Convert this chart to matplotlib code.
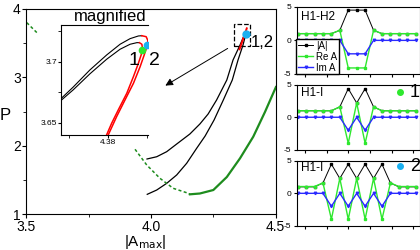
import matplotlib as mpl, numpy as np
import matplotlib.pyplot as plt
from matplotlib.patches import Rectangle

plt.rcParams['font.family'] = ['Liberation Sans', 'DejaVu Sans']

# main panel: branches P vs |A_max|
upper_x = [3.984, 4.023, 4.063, 4.103, 4.156, 4.196, 4.229, 4.263, 4.304, 4.329, 4.357, 4.377]
upper_p = [1.805, 1.838, 1.912, 2.024, 2.171, 2.317, 2.463, 2.668, 2.961, 3.254, 3.473, 3.644]
lower_x = [3.985, 4.023, 4.063, 4.103, 4.143, 4.183, 4.217, 4.253, 4.290, 4.326, 4.349, 4.369, 4.381]
lower_p = [1.288, 1.351, 1.449, 1.571, 1.742, 1.961, 2.141, 2.376, 2.668, 2.961, 3.254, 3.473, 3.644]
red_x = [4.355, 4.384]
red_p = [3.410, 3.717]
gdash_x = [3.936, 3.983, 4.036, 4.089, 4.150, 4.156]
gdash_p = [1.947, 1.717, 1.522, 1.376, 1.303, 1.288]
green_x = [4.156, 4.196, 4.250, 4.304, 4.357, 4.410, 4.457, 4.501]
green_p = [1.288, 1.300, 1.351, 1.541, 1.815, 2.131, 2.493, 2.858]
gdash2_x = [3.502, 3.548]
gdash2_p = [3.80, 3.634]
dot12 = (4.381, 3.634)
zoom_box = (4.333, 3.459, 0.066, 0.321)
arrow_from = (4.317, 3.444)
arrow_to = (4.048, 2.858)

# inset (magnified fold)
in1_bx = [4.37385, 4.37555, 4.37769, 4.37983, 4.38154, 4.38282, 4.38388, 4.38432]
in1_by = [3.6689, 3.6793, 3.6934, 3.7057, 3.7145, 3.7191, 3.7213, 3.7215]
in1_rx = [4.38432, 4.38487, 4.38509, 4.38496, 4.38462, 4.38410, 4.38325, 4.38218, 4.38111, 4.38004]
in1_ry = [3.7215, 3.7207, 3.7175, 3.7125, 3.7057, 3.6961, 3.6825, 3.6689, 3.6552, 3.6402]
in2_bx = [4.37385, 4.37555, 4.37769, 4.37983, 4.38154, 4.38282, 4.38368, 4.38401]
in2_by = [3.6675, 3.6770, 3.6902, 3.7022, 3.7104, 3.7145, 3.7158, 3.7158]
in2_rx = [4.38401, 4.38432, 4.38440, 4.38423, 4.38388, 4.38325, 4.38240, 4.38132, 4.38047, 4.37983]
in2_ry = [3.7158, 3.7145, 3.7112, 3.7057, 3.6989, 3.6880, 3.6743, 3.6607, 3.6497, 3.6402]
dot1 = (4.38432, 3.7098)
dot2 = (4.38504, 3.7139)

# right panels: profiles on sites
sites = list(range(-7, 8))
p1_abs = [1, 1, 1, 1, 1, 1.5, 4.5, 4.5, 4.5, 1.5, 1, 1, 1, 1, 1]
p1_re = [1, 1, 1, 1, 1, 1.5, -4.1, -4.1, -4.1, 1.5, 1, 1, 1, 1, 1]
p1_im = [0, 0, 0, 0, 0, 0, -2, -2, -2, 0, 0, 0, 0, 0, 0]
p2_abs = [1, 1, 1, 1, 1, 1.6, 4.4, 2.2, 4.4, 1.6, 1, 1, 1, 1, 1]
p2_re = [1, 1, 1, 1, 1, 1.6, -4, 2.2, -4, 1.6, 1, 1, 1, 1, 1]
p2_im = [0, 0, 0, 0, 0, 0, -2, 0, -2, 0, 0, 0, 0, 0, 0]
p3_abs = [1, 1, 1, 1.6, 4.5, 2.3, 4.5, 2.3, 4.5, 2.3, 4.5, 1.6, 1, 1, 1]
p3_re = [1.05, 1.05, 1.05, 1.6, -4, 2.3, -4, 2.3, -4, 2.3, -4, 1.6, 1.05, 1.05, 1.05]
p3_im = [0, 0, 0, 0, -2, 0, -2, 0, -2, 0, -2, 0, 0, 0, 0]

GREEN = '#1e8c1e'
LIME = '#2ee82e'
BLUE = '#2a2aff'
CYAN = '#1ab0f0'

fig = plt.figure(figsize=(4.2, 2.5), dpi=100)

# main axes
ax = fig.add_axes([0.0626, 0.144, 0.5938, 0.82])
ax.plot(upper_x, upper_p, color='k', lw=0.9)
ax.plot(lower_x, lower_p, color='k', lw=0.9)
ax.plot(red_x, red_p, color='red', lw=1.4)
ax.plot(gdash_x, gdash_p, color=GREEN, lw=1.1, ls=(0, (2, 1.6)))
ax.plot(gdash2_x, gdash2_p, color=GREEN, lw=1.1, ls=(0, (2, 1.6)))
ax.plot(green_x, green_p, color=GREEN, lw=1.6)
ax.plot(*dot12, 'o', color=CYAN, ms=5)
ax.add_patch(Rectangle(zoom_box[:2], zoom_box[2], zoom_box[3], fill=False, ls='--', lw=0.9, ec='k'))
ax.annotate('', xy=arrow_to, xytext=arrow_from,
            arrowprops=dict(arrowstyle='-|>', color='k', lw=0.7, mutation_scale=11))
ax.text(4.402, 3.517, '1,2', fontsize=12, va='center', ha='left')
ax.set_xlim(3.5, 4.5)
ax.set_ylim(1, 4)
ax.set_xticks([3.5, 4.0, 4.5])
ax.set_xticklabels(['3.5', '4.0', '4.5'])
ax.set_xticks([3.75, 4.25], minor=True)
ax.set_yticks([1, 2, 3, 4])
ax.set_yticklabels(['1', '2', '3', '4'])
ax.set_yticks([1.5, 2.5, 3.5], minor=True)
ax.tick_params(which='both', direction='out', labelsize=10, pad=1)
ax.tick_params(axis='x', pad=1.5)
ax.tick_params(which='major', length=3)
ax.tick_params(which='minor', length=2)
for s in ax.spines.values():
    s.set_linewidth(0.8)
fig.text(-0.002, 0.54, 'P', fontsize=12, ha='left', va='center')
fig.text(0.345, 0.031, r'|A$_{\rm max}$|', fontsize=11, ha='center', va='center')
fig.text(0.262, 0.936, 'magnified', fontsize=12, ha='center', va='center')

# inset
ins = fig.add_axes([0.1452, 0.46, 0.2071, 0.44])
ins.plot(in1_bx, in1_by, color='k', lw=0.8)
ins.plot(in2_bx, in2_by, color='k', lw=0.8)
ins.plot(in1_rx, in1_ry, color='red', lw=1.1)
ins.plot(in2_rx, in2_ry, color='red', lw=1.1)
ins.plot(*dot1, 'o', color=LIME, ms=4.5, zorder=5)
ins.plot(*dot2, 'o', color=CYAN, ms=4.5, zorder=5)
ins.text(0.84, 0.68, '1', transform=ins.transAxes, fontsize=14, ha='center', va='center')
ins.text(1.07, 0.68, '2', transform=ins.transAxes, fontsize=14, ha='center', va='center', clip_on=False)
ins.set_xlim(4.374, 4.3851)
ins.set_ylim(3.640, 3.7303)
ins.set_xticks([4.38])
ins.set_xticklabels(['4.38'])
ins.set_xticks([4.375, 4.385], minor=True)
ins.set_yticks([3.65, 3.7])
ins.set_yticklabels(['3.65', '3.7'])
ins.set_yticks([3.675, 3.725], minor=True)
ins.tick_params(which='both', direction='out', labelsize=6, pad=1, length=2)
ins.spines['right'].set_visible(False)
for s in ins.spines.values():
    s.set_linewidth(0.8)

# right panels
panels = [
    (0.704, 0.269, p1_abs, p1_re, p1_im, 'H1-H2', 0.851),
    (0.401, 0.260, p2_abs, p2_re, p2_im, 'H1-I', 0.88),
    (0.0972, 0.259, p3_abs, p3_re, p3_im, 'H1-I', 0.89),
]
axs = []
for bottom, height, a, re, im, title, ty in panels:
    pa = fig.add_axes([0.7071, bottom, 0.2929, height])
    pa.plot(sites, a, color='k', lw=0.7, marker='s', ms=1.5, label='|A|')
    pa.plot(sites, re, color=LIME, lw=1.0, marker='s', ms=1.5, label='Re A')
    pa.plot(sites, im, color=BLUE, lw=1.0, marker='v', ms=1.8, label='Im A')
    pa.set_xlim(-7.08, 7.51)
    pa.set_ylim(-5, 5)
    pa.set_yticks([-5, 0, 5])
    pa.set_yticklabels(['-5', '0', '5'])
    pa.set_xticks(np.arange(-6.12, 7.0, 2.57))
    pa.set_xticklabels([])
    pa.tick_params(direction='out', length=2, labelsize=6, pad=2)
    pa.text(0.033, ty, title, transform=pa.transAxes, fontsize=8.5, ha='left', va='center')
    for s in pa.spines.values():
        s.set_linewidth(0.8)
    axs.append(pa)

axs[0].legend(loc='lower left', bbox_to_anchor=(-0.005, -0.005), fontsize=7, frameon=True,
              fancybox=False, edgecolor='k', framealpha=1, numpoints=1, handlelength=1.6,
              handletextpad=0.3, borderpad=0.15, labelspacing=0.12, borderaxespad=0.0)
axs[1].plot(0.837, 0.888, 'o', color=LIME, ms=4, transform=axs[1].transAxes)
axs[1].text(0.916, 0.88, '1', transform=axs[1].transAxes, fontsize=13, ha='left', va='center')
axs[2].plot(0.837, 0.927, 'o', color=CYAN, ms=4, transform=axs[2].transAxes)
axs[2].text(0.916, 0.915, '2', transform=axs[2].transAxes, fontsize=13, ha='left', va='center')

fig.savefig('out.png', dpi=100)
